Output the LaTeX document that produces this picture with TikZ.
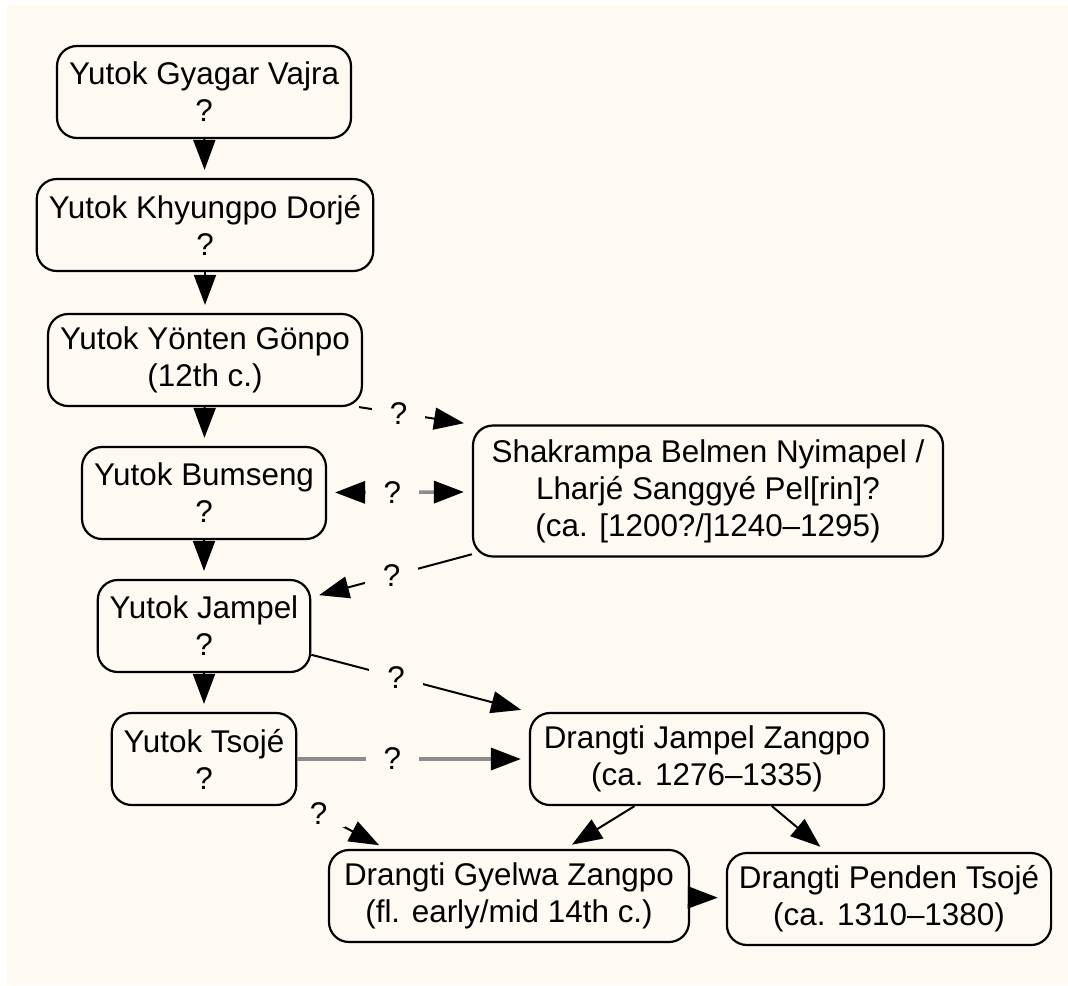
\documentclass[tikz,border=0pt]{standalone}
\usepackage{fontspec}
\setmainfont{Liberation Sans}
\usetikzlibrary{arrows.meta}
\definecolor{famBg}{HTML}{FEFAF2}
\definecolor{famGrey}{HTML}{8C8C8C}
\begin{document}
\begin{tikzpicture}[x=0.5pt,y=-0.5pt,
    famNode/.style={draw=black,line width=1.1pt,rounded corners=10pt,align=center,inner xsep=6pt,inner ysep=2pt,minimum height=46pt,font=\fontsize{15.7}{18.5}\selectfont},
    famArr/.style={-{Triangle[length=15pt,width=11pt]},line width=1pt,shorten >=4pt},
    famArrG/.style={-{Triangle[length=15pt,width=11pt,color=black]},draw=famGrey,line width=1.7pt,shorten >=4pt},
    famArrGB/.style={{Triangle[length=15pt,width=11pt,color=black]}-{Triangle[length=15pt,width=11pt,color=black]},draw=famGrey,line width=1.7pt,shorten >=4pt,shorten <=4pt},
    famLabel/.style={fill=famBg,inner xsep=9pt,inner ysep=1pt,font=\fontsize{15.7}{18.5}\selectfont},
]
\useasboundingbox (0,0) rectangle (1068,985);
\fill[famBg] (7,5) rectangle (1068,985);
\node[famNode] (gyagar) at (204,92) {Yutok Gyagar Vajra\\?};
\node[famNode] (khyungpo) at (205,225) {Yutok Khyungpo Dorjé\\?};
\node[famNode] (yonten) at (205,360) {Yutok Yönten Gönpo\\(12th c.)};
\node[famNode] (bumseng) at (204,493) {Yutok Bumseng\\?};
\node[famNode] (jampel) at (204,626) {Yutok Jampel\\?};
\node[famNode] (tsoje) at (204,759) {Yutok Tsojé\\?};
\node[famNode,minimum height=65.5pt,minimum width=235pt] (shakrampa) at (708,491) {Shakrampa Belmen Nyimapel /\\Lharjé Sanggyé Pel[rin]?\\(ca. [1200?/]1240–1295)};
\node[famNode,minimum width=177pt] (djzangpo) at (707,759) {Drangti Jampel Zangpo\\(ca. 1276–1335)};
\node[famNode,minimum width=180pt] (gyelwa) at (509,896) {Drangti Gyelwa Zangpo\\(fl. early/mid 14th c.)};
\node[famNode] (penden) at (889,899) {Drangti Penden Tsojé\\(ca. 1310–1380)};
\draw[famArr] (gyagar) -- (khyungpo);
\draw[famArr] (khyungpo) -- (yonten);
\draw[famArr] (yonten) -- (bumseng);
\draw[famArr] (bumseng) -- (jampel);
\draw[famArr] (jampel) -- (tsoje);
% uncertain links
\draw[famArr] (yonten.-17) -- node[famLabel,pos=0.35] {?} (shakrampa.north west);
\draw[famArrGB] (bumseng) -- node[famLabel,pos=0.45] {?} (shakrampa);
\draw[famArr] (shakrampa.195) -- node[famLabel,pos=0.5] {?} (jampel.15);
\draw[famArr] (jampel.-15) -- node[famLabel,pos=0.39] {?} (djzangpo.north west);
\draw[famArrG] (tsoje) -- node[famLabel,pos=0.41] {?} (djzangpo);
\draw[famArr] (tsoje.-25) -- node[famLabel,pos=0.24] {?} (gyelwa.159);
\draw[famArr] (djzangpo.213) -- (gyelwa.40);
\draw[famArr] (djzangpo.-36) -- (penden.143);
\draw[famArr] (gyelwa) -- (penden);
\end{tikzpicture}
\end{document}
